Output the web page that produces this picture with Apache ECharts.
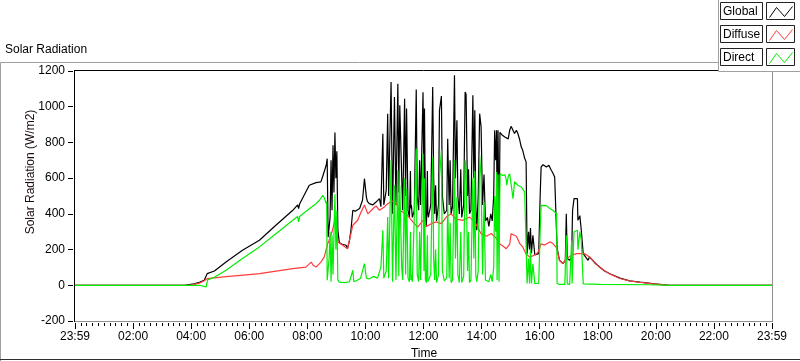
<!DOCTYPE html>
<html><head><meta charset="utf-8">
<script src="https://cdn.jsdelivr.net/npm/echarts@6/dist/echarts.min.js"></script>
<style>html,body{margin:0;padding:0;background:#fff}#c{width:800px;height:361px}</style>
</head><body><div id="c"></div>
<script>
// time axis in minutes from the start of the day
const timeTicks = [0,120,240,360,480,600,720,840,960,1080,1200,1320,1440];
const timeTickLabels = ['23:59','02:00','04:00','06:00','08:00','10:00','12:00','14:00','16:00','18:00','20:00','22:00','23:59'];
const seriesNames = ['Global','Diffuse','Direct'];
const seriesColors = ['#000000','#ff3c3c','#00ee00'];

// [minute, W/m2]
const globalData = [[0,0],[226,0],[246,8],[257,17],[267,28],[271,33],[273,65],[288,80],[312,130],[346,196],[381,252],[415,336],[450,420],[460,450],[462,430],[464,455],[484,560],[498,575],[508,579],[512,612],[519,672],[521,709],[523,270],[525,260],[527,380],[529,700],[531,420],[533,784],[535,520],[537,855],[539,600],[541,750],[543,310],[546,240],[552,230],[560,224],[563,205],[567,250],[570,308],[574,420],[579,415],[588,430],[592,440],[594,476],[598,597],[602,494],[604,470],[608,457],[615,450],[622,466],[629,485],[632,440],[636,849],[638,450],[643,532],[646,961],[648,500],[653,1138],[656,400],[660,1054],[663,450],[667,1129],[669,520],[671,1008],[675,600],[677,420],[681,1045],[683,500],[685,990],[688,420],[691,380],[693,640],[694,430],[695,450],[697,380],[701,420],[705,1096],[707,500],[710,420],[712,700],[714,450],[719,1081],[721,500],[722,990],[724,400],[726,326],[728,640],[729,400],[730,380],[735,450],[739,1110],[741,600],[743,400],[745,560],[747,360],[751,450],[753,980],[757,1060],[759,500],[763,400],[768,420],[770,821],[773,450],[775,700],[777,400],[780,440],[784,1176],[786,600],[789,924],[791,500],[794,400],[797,650],[799,380],[803,450],[806,1083],[808,1070],[811,500],[813,650],[815,400],[818,420],[822,1064],[824,600],[826,980],[828,450],[830,308],[833,500],[836,961],[839,887],[842,450],[845,620],[848,360],[852,380],[855,330],[859,400],[862,360],[865,500],[867,868],[869,700],[871,868],[872,300],[874,868],[876,260],[878,857],[883,840],[888,830],[892,830],[895,820],[898,868],[901,890],[905,896],[908,850],[912,868],[915,850],[919,812],[922,774],[925,756],[929,711],[932,691],[934,177],[937,300],[939,200],[941,320],[943,180],[946,280],[950,170],[954,175],[958,177],[961,500],[963,663],[967,675],[970,665],[974,663],[977,670],[979,672],[984,644],[987,630],[991,607],[995,600],[996,210],[1001,140],[1008,121],[1013,140],[1015,401],[1017,150],[1022,140],[1026,160],[1028,420],[1031,485],[1038,485],[1039,364],[1043,390],[1046,308],[1050,177],[1060,140],[1063,159],[1074,125],[1084,102],[1094,80],[1105,65],[1126,40],[1146,25],[1167,18],[1198,8],[1229,0],[1440,0]];

const diffuseData = [[0,0],[236,0],[246,5],[257,12],[267,25],[273,37],[288,42],[312,48],[360,60],[381,65],[450,93],[477,102],[488,130],[492,112],[498,102],[508,130],[515,159],[522,233],[525,252],[532,308],[538,382],[543,243],[553,224],[563,205],[574,336],[584,364],[591,410],[598,450],[605,400],[616,430],[622,445],[629,420],[639,438],[646,457],[652,466],[660,476],[670,420],[684,400],[698,355],[708,326],[719,364],[726,330],[736,345],[746,355],[757,345],[767,382],[777,400],[788,370],[801,364],[815,382],[826,355],[839,289],[850,275],[860,290],[870,265],[877,233],[884,220],[891,205],[898,230],[901,289],[912,275],[919,233],[925,215],[932,175],[939,159],[946,165],[953,175],[957,187],[963,233],[970,225],[981,243],[987,235],[995,210],[1001,140],[1008,121],[1015,149],[1026,168],[1036,177],[1046,177],[1053,177],[1063,159],[1084,100],[1105,63],[1126,38],[1146,24],[1167,17],[1198,7],[1229,0],[1440,0]];

const directData = [[0,0],[257,0],[261,-9],[271,-9],[274,30],[288,45],[312,84],[346,150],[381,215],[415,289],[450,364],[460,385],[462,355],[464,385],[484,429],[498,457],[505,476],[512,504],[515,490],[519,457],[520,470],[521,28],[525,150],[527,300],[529,20],[531,280],[533,60],[537,510],[539,200],[541,420],[543,30],[546,18],[558,15],[567,20],[571,25],[574,84],[576,20],[584,30],[590,40],[598,121],[602,40],[608,35],[617,50],[625,40],[632,102],[636,308],[638,40],[643,80],[646,382],[648,40],[653,700],[656,20],[660,560],[663,30],[667,644],[669,50],[671,560],[675,100],[677,30],[681,600],[683,60],[685,540],[688,40],[691,20],[693,300],[694,30],[695,60],[697,20],[701,30],[705,765],[707,60],[710,20],[712,300],[714,30],[719,737],[721,80],[722,600],[724,30],[726,15],[728,280],[729,20],[730,30],[735,60],[739,720],[741,150],[743,30],[745,200],[747,15],[751,60],[753,600],[757,756],[759,80],[763,25],[768,40],[770,457],[773,40],[775,350],[777,15],[780,30],[784,700],[786,150],[789,495],[791,60],[794,15],[797,300],[799,15],[803,50],[806,700],[808,650],[811,80],[813,300],[815,15],[818,30],[822,600],[824,150],[826,640],[828,60],[830,20],[833,80],[836,728],[839,600],[842,60],[845,466],[848,30],[852,30],[855,20],[859,60],[862,20],[865,100],[867,500],[869,300],[871,635],[872,30],[874,620],[876,20],[878,625],[883,615],[888,620],[891,590],[892,560],[895,610],[898,625],[901,625],[905,485],[906,476],[908,580],[912,579],[915,560],[919,560],[922,550],[925,540],[929,523],[932,513],[934,10],[937,150],[939,10],[941,200],[943,10],[946,120],[950,10],[954,10],[958,10],[961,300],[963,448],[967,457],[974,446],[981,430],[987,420],[991,415],[995,401],[996,10],[1001,5],[1012,5],[1015,280],[1017,8],[1022,5],[1026,250],[1027,10],[1031,300],[1038,308],[1039,200],[1043,300],[1046,252],[1050,8],[1084,5],[1188,3],[1229,0],[1440,0]];

const FONT = '"Liberation Sans", Arial, sans-serif';
const chart = echarts.init(document.getElementById('c'), null, {renderer: 'canvas'});

function legendItem(i, top) {
  const sx = 766.5;
  return [
    {type:'rect', shape:{x:720.5, y:top, width:42, height:17}, style:{fill:'#fff', stroke:'#222', lineWidth:1}, z:100},
    {type:'text', style:{x:723, y:top+9, text:seriesNames[i], fill:'#000', font:'12px ' + FONT, verticalAlign:'middle', align:'left'}, z:101},
    {type:'rect', shape:{x:sx, y:top, width:28, height:17}, style:{fill:'#fff', stroke:'#222', lineWidth:1}, z:100},
    {type:'polyline', shape:{points:[[sx+3,top+15],[sx+10,top+5],[sx+18,top+14],[sx+26,top+4]]}, style:{stroke:seriesColors[i], lineWidth:1, fill:null}, z:101}
  ];
}

chart.setOption({
  animation: false,
  grid: {left: 75, right: 28, top: 71, bottom: 40},
  xAxis: {
    type: 'value', min: 0, max: 1440, interval: 120, offset: 2,
    axisLine: {show: false, onZero: false},
    axisTick: {show: true, length: 6, lineStyle: {color: '#000'}},
    minorTick: {show: true, splitNumber: 10, length: 3, lineStyle: {color: '#000'}},
    splitLine: {show: false}, minorSplitLine: {show: false},
    axisLabel: {margin: 8, color: '#000', fontFamily: FONT, fontSize: 12, showMinLabel: true, showMaxLabel: true,
      formatter: v => { const k = timeTicks.indexOf(v); return k >= 0 ? timeTickLabels[k] : ''; }}
  },
  yAxis: {
    type: 'value', min: -200, max: 1200, interval: 200, offset: 2,
    axisLine: {show: false, onZero: false},
    axisTick: {show: true, length: 5, lineStyle: {color: '#000'}},
    splitLine: {show: false},
    axisLabel: {margin: 8, color: '#000', fontFamily: FONT, fontSize: 12, formatter: v => String(v)}
  },
  series: [
    {name: seriesNames[0], type: 'line', data: globalData, showSymbol: false, lineStyle: {color: seriesColors[0], width: 1.2}, z: 2},
    {name: seriesNames[1], type: 'line', data: diffuseData, showSymbol: false, lineStyle: {color: seriesColors[1], width: 1.2}, z: 3},
    {name: seriesNames[2], type: 'line', data: directData, showSymbol: false, lineStyle: {color: seriesColors[2], width: 1.2}, z: 4}
  ],
  graphic: [
    // outer frame
    {type:'polyline', shape:{points:[[0.5,361],[0.5,62.5],[719,62.5]]}, style:{stroke:'#a0a0a0', lineWidth:1, fill:null}, z:90},
    {type:'line', shape:{x1:0, y1:359.5, x2:800, y2:359.5}, style:{stroke:'#303030', lineWidth:1}, z:90},
    {type:'text', style:{x:5, y:50, text:'Solar Radiation', fill:'#000', font:'12px ' + FONT, verticalAlign:'middle'}, z:90},
    // plot frame
    {type:'line', shape:{x1:74, y1:70.5, x2:773, y2:70.5}, style:{stroke:'#000', lineWidth:1}, z:95},
    {type:'line', shape:{x1:74.5, y1:70, x2:74.5, y2:322}, style:{stroke:'#000', lineWidth:1}, z:95},
    {type:'line', shape:{x1:772.5, y1:71, x2:772.5, y2:322}, style:{stroke:'#909090', lineWidth:1}, z:95},
    {type:'line', shape:{x1:75, y1:321.5, x2:773, y2:321.5}, style:{stroke:'#909090', lineWidth:1}, z:95},
    // axis names
    {type:'text', x:31, y:172, rotation:Math.PI/2, style:{x:0, y:0, text:'Solar Radiation (W/m2)', fill:'#1a0a0a', font:'12px ' + FONT, align:'center', verticalAlign:'middle'}, z:90},
    {type:'text', style:{x:424, y:354, text:'Time', fill:'#000', font:'12px ' + FONT, align:'center', verticalAlign:'middle'}, z:90},
    // legend
    {type:'rect', shape:{x:718.5, y:-1, width:83, height:72.5}, style:{fill:'#fff', stroke:'#a0a0a0', lineWidth:1}, z:99},
    ...legendItem(0, 2.5), ...legendItem(1, 25.5), ...legendItem(2, 48.5)
  ]
});
</script></body></html>
